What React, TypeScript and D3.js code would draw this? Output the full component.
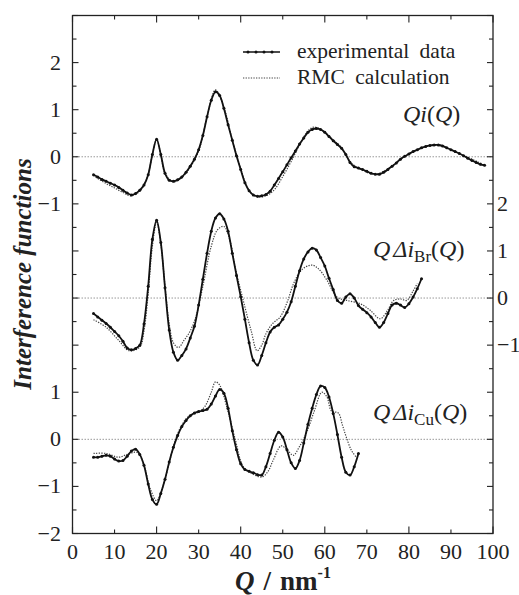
import * as d3 from "d3";

// Q grid (nm^-1) of the experimental points
const qTopExp = d3.range(5, 99);
const topExp = [
  -0.38, -0.43, -0.48, -0.52, -0.56, -0.6, -0.65, -0.71, -0.77, -0.81,
  -0.78, -0.71, -0.6, -0.38, 0.05, 0.37, 0.05, -0.35, -0.5, -0.52,
  -0.49, -0.43, -0.33, -0.2, -0.05, 0.15, 0.45, 0.85, 1.2, 1.38,
  1.3, 1.03, 0.68, 0.35, 0.02, -0.27, -0.55, -0.72, -0.81, -0.84,
  -0.83, -0.8, -0.73, -0.6, -0.46, -0.32, -0.17, -0.02, 0.12, 0.27,
  0.4, 0.52, 0.58, 0.6, 0.58, 0.52, 0.43, 0.34, 0.26, 0.18,
  0.05, -0.12, -0.21, -0.24, -0.27, -0.31, -0.35, -0.37, -0.37, -0.33,
  -0.27, -0.2, -0.13, -0.05, 0.01, 0.06, 0.11, 0.15, 0.19, 0.22,
  0.24, 0.25, 0.25, 0.23, 0.19, 0.15, 0.11, 0.07, 0.02, -0.03,
  -0.08, -0.12, -0.16, -0.18,
];
const topRmc: [number, number][] = [
  [5, -0.4], [8, -0.57], [10, -0.66], [12, -0.76], [14, -0.83], [16, -0.73],
  [17, -0.6], [18, -0.38], [19, 0.05], [20, 0.37], [21, 0.05], [22, -0.35],
  [24, -0.53], [26, -0.44], [28, -0.22], [30, 0.12], [32, 0.85], [34, 1.42],
  [36, 1.05], [38, 0.36], [40, -0.25], [42, -0.72], [44, -0.85], [46, -0.83],
  [48, -0.7], [50, -0.42], [52, -0.1], [54, 0.25], [56, 0.55], [57.5, 0.63],
  [60, 0.52], [62, 0.36], [64, 0.19], [66, -0.1], [68, -0.24], [72, -0.37],
  [76, -0.2], [80, 0.06], [86, 0.25], [92, 0.07], [98, -0.18],
];

const qBrExp = d3.range(5, 84);
const brExp = [
  -0.33, -0.4, -0.47, -0.54, -0.62, -0.71, -0.8, -0.92, -1.06, -1.1,
  -1.07, -1.0, -0.55, 0.25, 1.25, 1.65, 1.18, 0.22, -0.68, -1.15,
  -1.32, -1.22, -1.08, -0.85, -0.6, -0.15, 0.4, 0.95, 1.42, 1.7,
  1.79, 1.68, 1.42, 0.95, 0.48, 0.03, -0.45, -0.95, -1.32, -1.42,
  -1.22, -0.95, -0.72, -0.62, -0.57, -0.45, -0.3, -0.08, 0.25, 0.58,
  0.83, 0.98, 1.06, 1.02, 0.86, 0.68, 0.42, 0.18, -0.05, -0.11,
  0.02, 0.09, 0.0, -0.16, -0.24, -0.31, -0.4, -0.52, -0.62, -0.52,
  -0.33, -0.15, -0.11, -0.15, -0.2, -0.12, 0.02, 0.2, 0.41,
];
const brRmc: [number, number][] = [
  [5, -0.46], [8, -0.62], [11, -0.9], [13.5, -1.12], [16, -1.04], [17, -0.7],
  [18, 0.1], [19, 1.1], [20, 1.6], [21, 1.15], [22, 0.25], [23, -0.55],
  [24, -0.95], [25.2, -1.05], [26.5, -0.9], [28, -0.7], [29.5, -0.35], [31, 0.25],
  [33, 1.1], [34.5, 1.45], [36, 1.52], [37.5, 1.2], [38.7, 0.65], [40.6, -0.05],
  [42.5, -0.7], [43.9, -1.12], [45, -1.0], [46, -0.76], [47.5, -0.55], [49.4, -0.4],
  [51, -0.1], [52.6, 0.31], [54.5, 0.6], [56.9, 0.7], [58.5, 0.62], [60.5, 0.38],
  [62.9, 0.02], [65.3, -0.05], [68.4, -0.12], [70.8, -0.26], [73.2, -0.44], [75, -0.25],
  [76.4, -0.05], [78, -0.02], [79.5, -0.05], [81, 0.15], [82, 0.31],
];

const qCuExp = d3.range(5, 69);
const cuExp = [
  -0.38, -0.38, -0.36, -0.34, -0.36, -0.42, -0.46, -0.45, -0.36, -0.25,
  -0.21, -0.32, -0.55, -0.95, -1.28, -1.38, -1.15, -0.85, -0.48, -0.17,
  0.08, 0.27, 0.4, 0.5, 0.56, 0.59, 0.61, 0.64, 0.75, 0.92,
  1.06, 0.98, 0.66, 0.18, -0.22, -0.52, -0.64, -0.68, -0.71, -0.75,
  -0.76, -0.58, -0.3, -0.02, 0.15, 0.05, -0.22, -0.5, -0.62, -0.45,
  -0.08, 0.32, 0.66, 0.95, 1.13, 1.1, 0.9, 0.55, 0.1, -0.38,
  -0.7, -0.76, -0.58, -0.3,
];
const cuRmc: [number, number][] = [
  [5, -0.3], [8, -0.3], [11, -0.38], [13, -0.32], [15.4, -0.28], [17, -0.55],
  [18.5, -1.05], [20, -1.3], [21.5, -1.0], [23, -0.5], [24.5, 0.0], [26, 0.3],
  [27.5, 0.48], [30, 0.58], [31.5, 0.7], [33, 1.0], [34, 1.22], [35, 1.15],
  [36.8, 0.65], [38.7, 0.0], [40.6, -0.58], [42.5, -0.72], [45.1, -0.8], [46.5, -0.68],
  [47.7, -0.45], [49.6, -0.14], [51, -0.22], [52.5, -0.34], [54, -0.15], [55.7, 0.15],
  [57.5, 0.6], [59.3, 1.0], [60.5, 0.9], [61.6, 0.6], [63.2, 0.56], [64.2, 0.3],
  [65.1, 0.05], [66.3, -0.23], [67.4, -0.37],
];

// vertical offsets of the three curves (in units of the bottom axis)
const panelOffsets = [6, 3, 0];
const leftLabelsTop = [-1, 0, 1, 2];
const leftLabelsBottom = [-2, -1, 0, 1];
const rightLabelsMid = [-1, 0, 1, 2];
const xTickValues = d3.range(0, 101, 10);
const yTickValues = d3.range(-2, 9.01, 0.5);

const serif = "Liberation Serif, DejaVu Serif, serif";
const fmt = (v: number) => (v < 0 ? "\u2212" + Math.abs(v) : String(v));

export default function App() {
  const width = 519;
  const height = 595;
  const x = d3.scaleLinear().domain([0, 100]).range([72.5, 493]);
  const y = d3.scaleLinear().domain([-2, 9]).range([533.5, 15.5]);
  const line = d3
    .line<[number, number]>()
    .x((d) => x(d[0]))
    .y((d) => y(d[1]))
    .curve(d3.curveCatmullRom);

  const panels = [
    { off: panelOffsets[0], exp: qTopExp.map((q, i) => [q, topExp[i]] as [number, number]), rmc: topRmc },
    { off: panelOffsets[1], exp: qBrExp.map((q, i) => [q, brExp[i]] as [number, number]), rmc: brRmc },
    { off: panelOffsets[2], exp: qCuExp.map((q, i) => [q, cuExp[i]] as [number, number]), rmc: cuRmc },
  ];

  const [x0, x1] = x.range();
  const [yb, yt] = y.range();
  const txt = { fontFamily: serif, fill: "#222" };

  return (
    <svg width={width} height={height} style={{ position: "absolute", left: 0, top: 0, background: "#fff", fontFamily: serif }}>
      {/* zero lines */}
      {panels.map((p, i) => (
        <line key={"z" + i} x1={x0} x2={x1} y1={y(p.off)} y2={y(p.off)} stroke="#999" strokeWidth={1} strokeDasharray="1.5,1.5" />
      ))}

      {/* curves */}
      {panels.map((p, i) => {
        const rmc = p.rmc.map((d) => [d[0], d[1] + p.off] as [number, number]);
        const exp = p.exp.map((d) => [d[0], d[1] + p.off] as [number, number]);
        return (
          <g key={"c" + i}>
            <path d={line(rmc) || ""} fill="none" stroke="#444" strokeWidth={1.2} strokeDasharray="1.3,1.3" />
            <path d={line(exp) || ""} fill="none" stroke="#111" strokeWidth={1.8} />
            {exp.map((d, j) => (
              <circle key={j} cx={x(d[0])} cy={y(d[1])} r={1.5} fill="#111" />
            ))}
          </g>
        );
      })}

      {/* frame */}
      <rect x={x0} y={yt} width={x1 - x0} height={yb - yt} fill="none" stroke="#222" strokeWidth={1.3} />

      {/* x ticks (inward, bottom and top) */}
      {xTickValues.map((v) => {
        const len = v % 20 === 0 ? 7 : 4;
        return (
          <g key={"xt" + v}>
            <line x1={x(v)} x2={x(v)} y1={yb} y2={yb - len} stroke="#222" strokeWidth={1.1} />
            <line x1={x(v)} x2={x(v)} y1={yt} y2={yt + len} stroke="#222" strokeWidth={1.1} />
            <text x={x(v)} y={yb + 25} textAnchor="middle" fontSize={22} style={txt}>
              {v}
            </text>
          </g>
        );
      })}

      {/* y ticks (inward, left and right) */}
      {yTickValues.map((v) => {
        const len = Number.isInteger(v) ? 6 : 4;
        return (
          <g key={"yt" + v}>
            <line x1={x0} x2={x0 + len} y1={y(v)} y2={y(v)} stroke="#222" strokeWidth={1.1} />
            <line x1={x1} x2={x1 - len} y1={y(v)} y2={y(v)} stroke="#222" strokeWidth={1.1} />
          </g>
        );
      })}

      {/* left labels */}
      {leftLabelsTop.map((v) => (
        <text key={"lt" + v} x={61} y={y(v + panelOffsets[0]) + 7} textAnchor="end" fontSize={22} style={txt}>
          {fmt(v)}
        </text>
      ))}
      {leftLabelsBottom.map((v) => (
        <text key={"lb" + v} x={61} y={y(v + panelOffsets[2]) + 7} textAnchor="end" fontSize={22} style={txt}>
          {fmt(v)}
        </text>
      ))}
      {/* right labels for middle curve */}
      {rightLabelsMid.map((v) => (
        <text key={"rm" + v} x={497} y={y(v + panelOffsets[1]) + 7} textAnchor="start" fontSize={22} style={txt}>
          {fmt(v)}
        </text>
      ))}

      {/* legend */}
      <line x1={243} x2={280} y1={52} y2={52} stroke="#111" strokeWidth={1.6} />
      {[248, 256, 264, 272].map((cx) => (
        <circle key={cx} cx={cx} cy={52} r={1.5} fill="#111" />
      ))}
      <text x={297} y={58} fontSize={21.5} style={{ ...txt, wordSpacing: 5 }}>
        experimental data
      </text>
      <line x1={243} x2={280} y1={78} y2={78} stroke="#444" strokeWidth={1.2} strokeDasharray="1.3,1.3" />
      <text x={297} y={84} fontSize={21.5} style={{ ...txt, wordSpacing: 5 }}>
        RMC calculation
      </text>

      {/* curve labels */}
      <text x={403} y={122} fontSize={24} style={txt}>
        <tspan fontStyle="italic">Qi</tspan>(<tspan fontStyle="italic">Q</tspan>)
      </text>
      <text x={373} y={257} fontSize={24} style={txt}>
        <tspan fontStyle="italic">Q</tspan>
        <tspan fontStyle="italic" dx={3}>Δi</tspan>
        <tspan fontSize={17} dy={5}>Br</tspan>
        <tspan dy={-5}>(</tspan>
        <tspan fontStyle="italic">Q</tspan>)
      </text>
      <text x={373} y={420} fontSize={24} style={txt}>
        <tspan fontStyle="italic">Q</tspan>
        <tspan fontStyle="italic" dx={3}>Δi</tspan>
        <tspan fontSize={17} dy={5}>Cu</tspan>
        <tspan dy={-5}>(</tspan>
        <tspan fontStyle="italic">Q</tspan>)
      </text>

      {/* axis titles */}
      <text x={283} y={590} textAnchor="middle" fontSize={27} fontWeight="bold" style={txt}>
        <tspan fontStyle="italic">Q</tspan>
        <tspan dx={9}>/</tspan>
        <tspan dx={9}>nm</tspan>
        <tspan fontSize={16} dy={-12}>-1</tspan>
      </text>
      <text
        transform={`translate(31, 274) rotate(-90)`}
        textAnchor="middle"
        fontSize={25}
        fontWeight="bold"
        fontStyle="italic"
        style={txt}
      >
        Interference functions
      </text>
    </svg>
  );
}
